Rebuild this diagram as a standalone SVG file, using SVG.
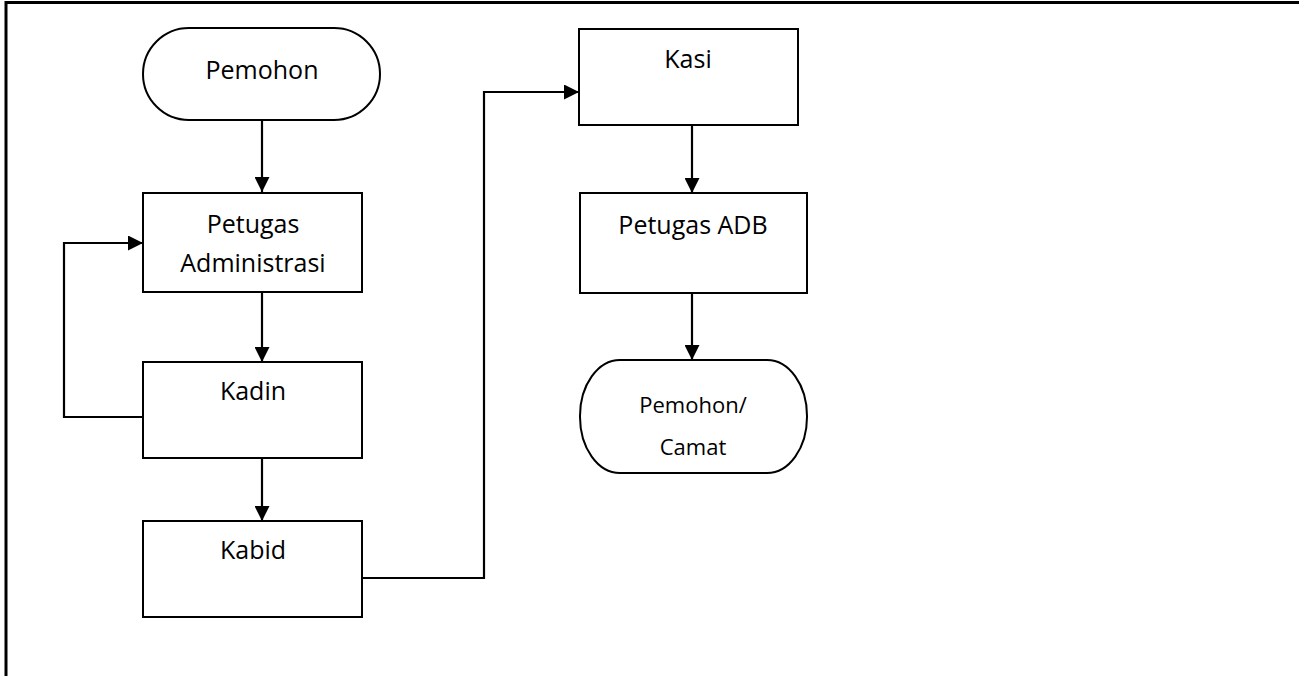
<svg xmlns="http://www.w3.org/2000/svg" width="1299" height="676" viewBox="0 0 1299 676">
<defs>
<style>
.n{fill:#fff;stroke:#000;stroke-width:2}
.t{font-family:"Open Sans","Liberation Sans",sans-serif;font-size:25px;fill:#000;text-anchor:middle}
.s{font-size:22px}
.c{fill:none;stroke:#000;stroke-width:2.2}
</style>
<marker id="ah" viewBox="0 0 15 15" refX="15" refY="7.5" markerWidth="15" markerHeight="15" markerUnits="userSpaceOnUse" orient="auto">
<path d="M0,0 L15,7.5 L0,15 Z" fill="#000"/>
</marker>
</defs>
<rect width="1299" height="676" fill="#fff"/>
<g id="frame"><path d="M6,676 V2.5 H1299" fill="none" stroke="#000" stroke-width="3"/></g>
<g id="connectors">
<path class="c" d="M262,120 V192" marker-end="url(#ah)"/>
<path class="c" d="M262,292 V362" marker-end="url(#ah)"/>
<path class="c" d="M143,417 H64 V243 H143" marker-end="url(#ah)"/>
<path class="c" d="M262,451 V521" marker-end="url(#ah)"/>
<path class="c" d="M362,578 H484 V92 H579" marker-end="url(#ah)"/>
<path class="c" d="M692,125 V193" marker-end="url(#ah)"/>
<path class="c" d="M692,293 V360" marker-end="url(#ah)"/>
</g>
<g id="pemohon"><rect class="n" x="143" y="28" width="237" height="92" rx="46" ry="46"/><text class="t" x="262" y="79">Pemohon</text></g>
<g id="petugas-administrasi"><rect class="n" x="143" y="193" width="219" height="99"/><text class="t" x="253" y="233">Petugas</text><text class="t" x="253" y="272">Administrasi</text></g>
<g id="kadin"><rect class="n" x="143" y="362" width="219" height="96"/><text class="t" x="253" y="400">Kadin</text></g>
<g id="kabid"><rect class="n" x="143" y="521" width="219" height="96"/><text class="t" x="253" y="559">Kabid</text></g>
<g id="kasi"><rect class="n" x="579" y="29" width="219" height="96"/><text class="t" x="688" y="68">Kasi</text></g>
<g id="petugas-adb"><rect class="n" x="580" y="193" width="227" height="100"/><text class="t" x="693" y="234">Petugas ADB</text></g>
<g id="pemohon-camat"><rect class="n" x="580" y="360" width="227" height="113" rx="40" ry="56"/><text class="t s" x="693" y="413">Pemohon/</text><text class="t s" x="693" y="455">Camat</text></g>
</svg>
